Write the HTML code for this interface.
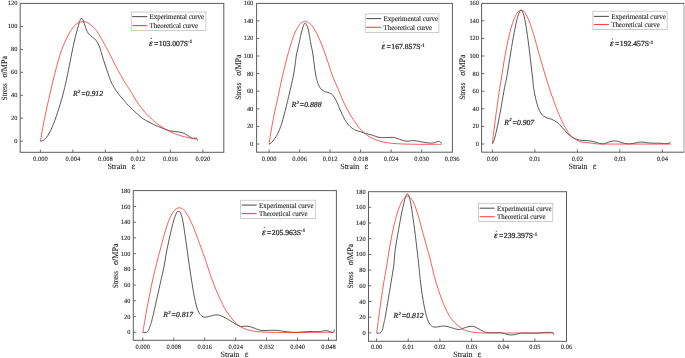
<!DOCTYPE html>
<html><head><meta charset="utf-8"><title>Stress-strain curves</title>
<style>html,body{margin:0;padding:0;background:#fff}body{width:685px;height:358px;overflow:hidden;font-family:"Liberation Serif",serif}</style></head>
<body>
<svg width="685" height="358" viewBox="0 0 685 358" text-rendering="geometricPrecision" style="display:block;will-change:transform;opacity:0.999;font-family:'Liberation Serif',serif">
<style>text{stroke:#222;stroke-width:0.1px;paint-order:stroke}.b{stroke-width:0.22px}</style>
<rect width="685" height="358" fill="#fff"/>
<g><path d="M40.4 141.1C40.7 141.1 41.4 141.1 42.0 140.9C42.6 140.7 43.1 140.7 44.0 139.9C44.9 139.1 46.2 138.1 47.6 135.9C49.0 133.7 50.8 130.5 52.4 126.6C54.0 122.7 55.8 118.0 57.5 112.7C59.2 107.5 61.2 100.9 62.8 95.1C64.3 89.3 65.0 86.3 66.8 78.0C68.6 69.7 71.5 54.1 73.4 45.3C75.4 36.5 77.3 29.5 78.5 25.2C79.7 20.9 80.0 20.3 80.5 19.2C81.0 18.1 81.2 18.3 81.5 18.3C81.8 18.3 82.1 18.6 82.5 19.2C82.9 19.8 83.1 20.2 83.7 21.8C84.3 23.4 85.3 26.9 86.1 28.9C86.9 30.9 87.5 32.2 88.5 33.6C89.5 35.0 91.0 36.1 92.3 37.2C93.6 38.3 95.0 39.0 96.1 40.3C97.2 41.6 98.0 43.4 98.7 45.0C99.5 46.6 99.7 47.3 100.6 50.1C101.5 52.9 103.0 58.4 104.2 62.0C105.4 65.7 106.5 68.9 107.5 72.0C108.5 75.1 109.6 78.1 110.5 80.4C111.4 82.7 112.1 84.0 113.0 85.6C113.9 87.2 114.7 88.5 115.7 90.0C116.7 91.5 117.8 93.0 119.0 94.6C120.2 96.2 121.5 97.6 123.1 99.4C124.7 101.2 126.1 103.1 128.4 105.4C130.7 107.8 134.3 111.2 136.8 113.5C139.3 115.8 140.7 117.2 143.5 119.0C146.3 120.8 150.2 122.8 153.6 124.4C156.9 126.0 160.8 127.6 163.6 128.7C166.4 129.8 167.9 130.4 170.3 130.9C172.7 131.4 175.7 131.4 177.9 131.8C180.2 132.2 181.7 132.4 183.8 133.3C185.9 134.2 188.9 136.4 190.5 137.2C192.1 138.0 192.5 138.2 193.5 138.3C194.5 138.5 195.7 137.7 196.4 138.1C197.1 138.5 197.4 140.2 197.6 140.6" fill="none" stroke="#3a3a3a" stroke-width="0.85" stroke-linejoin="round"/><path d="M40.4 141.1C41.0 138.0 42.5 128.8 43.7 122.8C44.9 116.8 45.8 112.3 47.4 105.2C49.0 98.1 51.1 88.5 53.2 80.0C55.3 71.5 57.9 61.5 60.1 54.5C62.4 47.5 64.5 42.5 66.7 38.0C68.9 33.5 71.1 29.9 73.0 27.4C74.9 24.9 76.3 23.9 78.0 23.0C79.7 22.1 81.3 21.7 83.0 21.7C84.7 21.7 85.9 21.7 88.0 23.0C90.1 24.3 93.1 26.5 95.6 29.5C98.0 32.5 100.3 36.8 102.7 41.0C105.1 45.2 107.9 50.6 110.2 55.0C112.5 59.4 114.0 62.8 116.5 67.5C119.0 72.2 122.9 79.2 125.2 83.0C127.5 86.8 128.2 87.1 130.1 90.2C132.0 93.3 134.3 97.8 136.8 101.5C139.3 105.2 142.4 109.3 145.2 112.5C148.0 115.7 150.8 118.4 153.6 120.8C156.4 123.2 159.2 125.2 162.0 127.0C164.8 128.8 167.5 130.3 170.3 131.7C173.1 133.0 175.9 134.1 178.7 135.1C181.5 136.1 184.1 136.7 187.1 137.4C190.1 138.1 194.8 138.9 196.4 139.2" fill="none" stroke="#f52828" stroke-width="0.75" stroke-linejoin="round"/><rect x="20.2" y="3.4" width="203.6" height="148.9" fill="none" stroke="#5c5c5c" stroke-width="1"/><text x="40.4" y="160.5" font-size="6.5" text-anchor="middle" fill="#222">0.000</text><text x="72.9" y="160.5" font-size="6.5" text-anchor="middle" fill="#222">0.004</text><text x="105.4" y="160.5" font-size="6.5" text-anchor="middle" fill="#222">0.008</text><text x="137.9" y="160.5" font-size="6.5" text-anchor="middle" fill="#222">0.012</text><text x="170.4" y="160.5" font-size="6.5" text-anchor="middle" fill="#222">0.016</text><text x="202.9" y="160.5" font-size="6.5" text-anchor="middle" fill="#222">0.020</text><text x="17.5" y="143.2" font-size="6.4" text-anchor="end" fill="#222">0</text><text x="17.5" y="120.2" font-size="6.4" text-anchor="end" fill="#222">20</text><text x="17.5" y="97.3" font-size="6.4" text-anchor="end" fill="#222">40</text><text x="17.5" y="74.3" font-size="6.4" text-anchor="end" fill="#222">60</text><text x="17.5" y="51.4" font-size="6.4" text-anchor="end" fill="#222">80</text><text x="17.5" y="28.4" font-size="6.4" text-anchor="end" fill="#222">100</text><text x="17.5" y="5.4" font-size="6.4" text-anchor="end" fill="#222">120</text><path d="M40.4 152.3v-2.8M72.9 152.3v-2.8M105.4 152.3v-2.8M137.9 152.3v-2.8M170.4 152.3v-2.8M202.9 152.3v-2.8M20.2 141.2h2.8M20.2 118.2h2.8M20.2 95.3h2.8M20.2 72.3h2.8M20.2 49.4h2.8M20.2 26.4h2.8" stroke="#5c5c5c" stroke-width="0.9" fill="none"/><text x="107.4" y="168.6" font-size="8.0" fill="#222">Strain</text><text x="131.6" y="168.6" font-size="8.8" fill="#222">ε</text><text transform="translate(7.3 100.4) rotate(-90)" font-size="8.0" fill="#222" textLength="17.3" lengthAdjust="spacingAndGlyphs">Stress</text><text transform="translate(7.3 77.4) rotate(-90)" font-size="8.8" fill="#222" textLength="21.4" lengthAdjust="spacingAndGlyphs"><tspan font-style="italic">σ</tspan>/MPa</text><rect x="131.2" y="12.0" width="74.7" height="18.4" fill="#fff" stroke="#b8b8b8" stroke-width="0.7"/><path d="M132.2 16.60h15" stroke="#585858" stroke-width="1.1"/><path d="M132.2 25.60h15" stroke="#f44" stroke-width="1.1"/><text x="149.5" y="19.3" font-size="7.3" fill="#222" textLength="54.6" lengthAdjust="spacingAndGlyphs">Experimental curve</text><text x="149.5" y="27.8" font-size="7.3" fill="#222" textLength="48.6" lengthAdjust="spacingAndGlyphs">Theoretical curve</text><text x="149.0" y="45.5" class="b" font-size="8.9" font-style="italic" fill="#222">ε</text><text x="153.9" y="45.5" class="b" font-size="7.7" fill="#222">=</text><text x="158.8" y="45.5" class="b" font-size="7.7" fill="#222">103.007S</text><text x="188.1" y="43.0" class="b" font-size="5.0" fill="#222">-1</text><circle cx="151.3" cy="38.4" r="0.55" fill="#222"/><text x="73.0" y="96.2" class="b" font-size="7.7" font-style="italic" fill="#222">R</text><text x="78.0" y="92.9" class="b" font-size="4.6" font-style="italic" fill="#222">2</text><text x="80.8" y="96.2" class="b" font-size="7.7" font-style="italic" fill="#222">=</text><text x="85.7" y="96.2" class="b" font-size="7.7" font-style="italic" fill="#222">0.912</text></g>
<g><path d="M269.1 144.2C269.4 144.0 270.4 143.5 271.0 143.0C271.6 142.5 271.8 142.4 272.9 141.0C274.0 139.6 275.9 137.3 277.4 134.3C278.9 131.3 280.3 127.8 281.8 123.1C283.3 118.4 284.8 112.3 286.3 106.3C287.8 100.3 289.6 92.5 290.8 87.3C292.0 82.1 292.8 78.7 293.5 75.0C294.2 71.3 294.6 68.2 295.1 64.9C295.6 61.6 295.7 58.9 296.4 55.0C297.1 51.1 298.8 44.7 299.5 41.4C300.2 38.1 300.3 37.3 300.8 35.2C301.3 33.1 301.9 30.6 302.4 28.9C302.9 27.2 303.4 25.8 303.8 24.8C304.2 23.8 304.7 23.0 305.1 23.0C305.6 23.0 306.0 23.8 306.5 24.8C307.0 25.8 307.6 27.2 308.1 28.9C308.6 30.6 309.0 33.1 309.4 35.2C309.8 37.3 309.8 38.1 310.4 41.4C311.0 44.7 312.2 49.7 313.0 55.0C313.8 60.3 314.6 68.4 315.4 73.0C316.2 77.6 316.7 79.8 317.6 82.5C318.5 85.2 319.7 87.4 321.0 88.9C322.3 90.5 324.0 91.1 325.5 91.8C327.0 92.5 328.6 92.4 329.9 93.1C331.2 93.8 332.2 94.3 333.3 95.8C334.4 97.2 335.4 99.1 336.7 101.8C338.0 104.5 339.6 108.7 341.1 111.9C342.6 115.1 344.1 118.5 345.6 120.9C347.1 123.3 348.6 125.0 350.1 126.5C351.6 128.0 352.6 128.8 354.5 129.7C356.4 130.6 359.3 131.4 361.2 132.0C363.1 132.6 363.8 133.0 365.6 133.5C367.5 134.0 370.1 134.5 372.3 135.2C374.5 135.8 376.8 137.0 379.0 137.4C381.2 137.8 383.5 137.6 385.7 137.6C387.9 137.6 390.5 137.2 392.4 137.3C394.3 137.4 395.2 137.8 396.9 138.3C398.6 138.8 400.8 139.8 402.5 140.3C404.2 140.8 405.1 141.1 407.0 141.2C408.9 141.2 411.6 140.6 413.7 140.6C415.8 140.6 417.2 141.1 419.3 141.4C421.4 141.8 424.0 142.4 426.0 142.7C428.0 143.0 430.0 143.1 431.5 143.1C433.0 143.1 433.8 142.8 434.9 142.5C436.0 142.2 437.3 141.5 438.2 141.4C439.1 141.3 439.7 141.6 440.3 142.0C440.9 142.4 441.4 143.3 441.6 143.6" fill="none" stroke="#3a3a3a" stroke-width="0.85" stroke-linejoin="round"/><path d="M269.1 144.2C269.4 142.4 269.9 138.0 270.7 133.2C271.5 128.4 272.9 120.9 274.0 115.3C275.1 109.7 276.1 105.5 277.4 99.6C278.7 93.7 280.3 85.8 281.6 80.0C282.9 74.2 283.9 70.2 285.2 64.9C286.5 59.6 288.2 53.1 289.7 48.1C291.2 43.1 292.6 38.4 294.1 34.7C295.6 31.0 297.3 27.9 298.6 25.9C299.9 23.8 300.9 23.2 302.0 22.4C303.1 21.6 304.0 21.1 305.3 21.3C306.6 21.5 308.3 22.2 309.8 23.5C311.3 24.8 312.6 26.3 314.3 29.1C316.0 31.9 317.8 35.4 319.9 40.3C321.9 45.1 324.6 52.4 326.6 58.2C328.7 64.0 330.3 70.0 332.2 75.0C334.1 80.0 335.8 83.6 337.8 88.4C339.9 93.2 342.3 99.4 344.5 104.1C346.7 108.8 349.5 113.6 351.2 116.4C352.9 119.2 353.2 119.4 354.5 121.2C355.8 123.0 357.2 125.5 358.9 127.5C360.6 129.5 362.6 131.5 364.5 133.1C366.4 134.7 368.1 135.9 370.1 137.1C372.2 138.3 374.6 139.4 376.8 140.2C379.0 141.0 380.9 141.5 383.5 142.0C386.1 142.5 389.0 143.1 392.4 143.4C395.8 143.7 399.5 143.8 403.6 144.0C407.7 144.2 410.7 144.2 417.0 144.3C423.3 144.4 437.5 144.3 441.6 144.3" fill="none" stroke="#f52828" stroke-width="0.75" stroke-linejoin="round"/><rect x="256.6" y="3.4" width="195.8" height="148.8" fill="none" stroke="#5c5c5c" stroke-width="1"/><text x="269.1" y="160.5" font-size="6.5" text-anchor="middle" fill="#222">0.000</text><text x="299.6" y="160.5" font-size="6.5" text-anchor="middle" fill="#222">0.006</text><text x="330.1" y="160.5" font-size="6.5" text-anchor="middle" fill="#222">0.012</text><text x="360.6" y="160.5" font-size="6.5" text-anchor="middle" fill="#222">0.018</text><text x="391.1" y="160.5" font-size="6.5" text-anchor="middle" fill="#222">0.024</text><text x="421.6" y="160.5" font-size="6.5" text-anchor="middle" fill="#222">0.030</text><text x="452.1" y="160.5" font-size="6.5" text-anchor="middle" fill="#222">0.036</text><text x="253.3" y="146.0" font-size="6.4" text-anchor="end" fill="#222">0</text><text x="253.3" y="128.4" font-size="6.4" text-anchor="end" fill="#222">20</text><text x="253.3" y="110.8" font-size="6.4" text-anchor="end" fill="#222">40</text><text x="253.3" y="93.2" font-size="6.4" text-anchor="end" fill="#222">60</text><text x="253.3" y="75.6" font-size="6.4" text-anchor="end" fill="#222">80</text><text x="253.3" y="58.0" font-size="6.4" text-anchor="end" fill="#222">100</text><text x="253.3" y="40.4" font-size="6.4" text-anchor="end" fill="#222">120</text><text x="253.3" y="22.8" font-size="6.4" text-anchor="end" fill="#222">140</text><text x="253.3" y="5.2" font-size="6.4" text-anchor="end" fill="#222">160</text><path d="M269.1 152.2v-2.8M299.6 152.2v-2.8M330.1 152.2v-2.8M360.6 152.2v-2.8M391.1 152.2v-2.8M421.6 152.2v-2.8M256.6 144.0h2.8M256.6 126.4h2.8M256.6 108.8h2.8M256.6 91.2h2.8M256.6 73.6h2.8M256.6 56.0h2.8M256.6 38.4h2.8M256.6 20.8h2.8" stroke="#5c5c5c" stroke-width="0.9" fill="none"/><text x="340.2" y="168.6" font-size="8.0" fill="#222">Strain</text><text x="364.4" y="168.6" font-size="8.8" fill="#222">ε</text><text transform="translate(240.5 99.8) rotate(-90)" font-size="8.0" fill="#222" textLength="17.3" lengthAdjust="spacingAndGlyphs">Stress</text><text transform="translate(240.5 75.8) rotate(-90)" font-size="8.8" fill="#222" textLength="21.4" lengthAdjust="spacingAndGlyphs"><tspan font-style="italic">σ</tspan>/MPa</text><rect x="365.2" y="13.9" width="73.7" height="18.5" fill="#fff" stroke="#b8b8b8" stroke-width="0.7"/><path d="M366.2 18.55h15" stroke="#585858" stroke-width="1.1"/><path d="M366.2 27.30h15" stroke="#f44" stroke-width="1.1"/><text x="383.5" y="21.2" font-size="7.3" fill="#222" textLength="54.6" lengthAdjust="spacingAndGlyphs">Experimental curve</text><text x="383.5" y="29.7" font-size="7.3" fill="#222" textLength="48.6" lengthAdjust="spacingAndGlyphs">Theoretical curve</text><text x="381.5" y="49.1" class="b" font-size="8.9" font-style="italic" fill="#222">ε</text><text x="386.4" y="49.1" class="b" font-size="7.7" fill="#222">=</text><text x="391.3" y="49.1" class="b" font-size="7.7" fill="#222">167.857S</text><text x="420.6" y="46.6" class="b" font-size="5.0" fill="#222">-1</text><circle cx="383.8" cy="42.0" r="0.55" fill="#222"/><text x="291.5" y="106.8" class="b" font-size="7.7" font-style="italic" fill="#222">R</text><text x="296.5" y="103.5" class="b" font-size="4.6" font-style="italic" fill="#222">2</text><text x="299.3" y="106.8" class="b" font-size="7.7" font-style="italic" fill="#222">=</text><text x="304.2" y="106.8" class="b" font-size="7.7" font-style="italic" fill="#222">0.888</text></g>
<g><path d="M492.3 143.9C492.7 143.1 493.6 142.1 494.5 138.8C495.4 135.5 496.8 129.6 497.9 124.2C499.0 118.8 500.2 112.5 501.3 106.3C502.4 100.1 503.7 92.0 504.6 87.3C505.5 82.6 505.9 82.1 506.6 78.0C507.4 73.9 508.1 68.5 509.1 62.6C510.1 56.7 511.3 48.8 512.4 42.5C513.5 36.2 514.8 29.3 515.8 24.6C516.8 19.9 517.6 16.9 518.5 14.5C519.4 12.1 520.1 10.3 520.9 10.1C521.7 9.9 522.5 11.4 523.2 13.4C524.0 15.4 524.6 17.9 525.4 22.4C526.2 26.9 527.3 34.3 528.1 40.3C528.9 46.3 529.6 52.1 530.3 58.2C531.0 64.3 531.9 72.0 532.5 77.0C533.1 82.0 533.1 84.6 533.7 88.4C534.3 92.2 535.1 96.2 535.9 99.6C536.7 103.0 537.7 106.2 538.6 108.6C539.5 111.0 540.3 112.6 541.5 114.1C542.7 115.6 544.3 116.6 546.0 117.5C547.7 118.4 549.7 118.5 551.6 119.3C553.5 120.1 555.5 121.1 557.2 122.4C558.9 123.7 560.0 125.1 561.7 126.9C563.4 128.7 565.4 131.4 567.2 133.2C569.1 135.0 570.8 136.4 572.8 137.6C574.8 138.8 577.5 139.6 579.5 140.1C581.5 140.6 583.1 140.3 585.0 140.5C586.9 140.7 588.9 140.8 590.6 141.0C592.3 141.2 593.6 141.6 595.1 142.0C596.6 142.4 598.1 143.1 599.6 143.4C601.1 143.7 602.5 144.1 604.0 143.9C605.5 143.7 607.0 142.6 608.5 142.1C610.0 141.6 611.5 141.2 613.0 141.0C614.5 140.8 616.0 140.9 617.5 141.2C619.0 141.5 620.0 142.2 621.9 142.7C623.8 143.1 626.4 143.8 628.6 143.9C630.9 144.0 633.3 143.3 635.4 143.0C637.5 142.7 639.1 142.1 641.0 142.0C642.9 141.9 644.5 142.5 646.5 142.7C648.5 142.9 651.0 143.1 653.2 143.2C655.5 143.3 658.1 143.1 660.0 143.2C661.9 143.3 662.9 143.6 664.4 143.6C665.9 143.6 667.8 143.7 668.9 143.4C670.0 143.1 670.4 142.1 670.7 141.8" fill="none" stroke="#3a3a3a" stroke-width="0.85" stroke-linejoin="round"/><path d="M492.3 143.9C492.6 141.7 493.1 136.8 493.9 130.9C494.6 125.0 495.8 115.7 496.8 108.6C497.8 101.5 498.9 93.7 499.7 88.4C500.5 83.1 500.9 81.7 501.6 77.0C502.4 72.3 503.1 66.5 504.2 60.4C505.3 54.3 506.6 46.4 508.0 40.3C509.4 34.1 510.9 28.0 512.4 23.5C513.9 19.0 515.5 15.6 516.9 13.4C518.3 11.2 519.6 10.3 520.9 10.1C522.2 9.9 523.3 10.4 524.7 12.3C526.1 14.2 527.7 17.6 529.2 21.3C530.7 25.0 532.0 29.1 533.7 34.7C535.4 40.3 537.3 47.8 539.3 54.8C541.3 61.8 544.1 71.4 545.8 77.0C547.5 82.6 547.9 83.9 549.4 88.4C550.9 92.9 553.1 99.2 554.9 104.1C556.7 108.9 558.5 113.6 560.3 117.5C562.0 121.4 563.8 124.7 565.4 127.6C567.0 130.5 568.0 132.8 570.2 135.0C572.4 137.2 575.8 139.8 578.5 141.0C581.2 142.2 583.4 142.1 586.2 142.5C589.0 142.9 592.1 143.3 595.1 143.6C598.1 143.8 591.4 143.9 604.0 144.0C616.6 144.1 659.6 144.1 670.7 144.1" fill="none" stroke="#f52828" stroke-width="0.75" stroke-linejoin="round"/><rect x="683.1" y="2.9" width="2" height="149.8" fill="#cdcdcd"/><path d="M684.0 3.4H481.6V152.2H684.0" fill="none" stroke="#5c5c5c" stroke-width="1"/><text x="492.4" y="160.5" font-size="6.5" text-anchor="middle" fill="#222">0.00</text><text x="534.9" y="160.5" font-size="6.5" text-anchor="middle" fill="#222">0.01</text><text x="577.4" y="160.5" font-size="6.5" text-anchor="middle" fill="#222">0.02</text><text x="619.9" y="160.5" font-size="6.5" text-anchor="middle" fill="#222">0.03</text><text x="662.4" y="160.5" font-size="6.5" text-anchor="middle" fill="#222">0.04</text><text x="479.0" y="146.0" font-size="6.4" text-anchor="end" fill="#222">0</text><text x="479.0" y="128.4" font-size="6.4" text-anchor="end" fill="#222">20</text><text x="479.0" y="110.8" font-size="6.4" text-anchor="end" fill="#222">40</text><text x="479.0" y="93.2" font-size="6.4" text-anchor="end" fill="#222">60</text><text x="479.0" y="75.6" font-size="6.4" text-anchor="end" fill="#222">80</text><text x="479.0" y="58.0" font-size="6.4" text-anchor="end" fill="#222">100</text><text x="479.0" y="40.4" font-size="6.4" text-anchor="end" fill="#222">120</text><text x="479.0" y="22.8" font-size="6.4" text-anchor="end" fill="#222">140</text><text x="479.0" y="5.2" font-size="6.4" text-anchor="end" fill="#222">160</text><path d="M492.4 152.2v-2.8M534.9 152.2v-2.8M577.4 152.2v-2.8M619.9 152.2v-2.8M662.4 152.2v-2.8M481.6 144.0h2.8M481.6 126.4h2.8M481.6 108.8h2.8M481.6 91.2h2.8M481.6 73.6h2.8M481.6 56.0h2.8M481.6 38.4h2.8M481.6 20.8h2.8" stroke="#5c5c5c" stroke-width="0.9" fill="none"/><text x="568.5" y="168.6" font-size="8.0" fill="#222">Strain</text><text x="592.7" y="168.6" font-size="8.8" fill="#222">ε</text><text transform="translate(465.1 99.8) rotate(-90)" font-size="8.0" fill="#222" textLength="17.3" lengthAdjust="spacingAndGlyphs">Stress</text><text transform="translate(465.1 75.8) rotate(-90)" font-size="8.8" fill="#222" textLength="21.4" lengthAdjust="spacingAndGlyphs"><tspan font-style="italic">σ</tspan>/MPa</text><rect x="592.9" y="11.2" width="74.2" height="18.3" fill="#fff" stroke="#b8b8b8" stroke-width="0.7"/><path d="M593.9 16.40h15" stroke="#585858" stroke-width="1.1"/><path d="M593.9 24.50h15" stroke="#f44" stroke-width="1.1"/><text x="611.2" y="18.5" font-size="7.3" fill="#222" textLength="54.6" lengthAdjust="spacingAndGlyphs">Experimental curve</text><text x="611.2" y="27.0" font-size="7.3" fill="#222" textLength="48.6" lengthAdjust="spacingAndGlyphs">Theoretical curve</text><text x="610.0" y="46.0" class="b" font-size="8.9" font-style="italic" fill="#222">ε</text><text x="614.9" y="46.0" class="b" font-size="7.7" fill="#222">=</text><text x="619.8" y="46.0" class="b" font-size="7.7" fill="#222">192.457S</text><text x="649.1" y="43.5" class="b" font-size="5.0" fill="#222">-1</text><circle cx="612.3" cy="38.9" r="0.55" fill="#222"/><text x="504.2" y="124.7" class="b" font-size="7.7" font-style="italic" fill="#222">R</text><text x="509.2" y="121.4" class="b" font-size="4.6" font-style="italic" fill="#222">2</text><text x="512.0" y="124.7" class="b" font-size="7.7" font-style="italic" fill="#222">=</text><text x="516.9" y="124.7" class="b" font-size="7.7" font-style="italic" fill="#222">0.907</text></g>
<g><path d="M142.8 332.4C143.2 332.4 144.4 332.4 145.0 332.4C145.6 332.4 146.2 332.4 146.6 332.3C147.0 332.2 147.4 332.0 147.7 331.6C148.0 331.2 148.2 331.2 148.6 330.2C149.0 329.2 149.6 327.8 150.2 325.8C150.8 323.8 151.3 322.9 152.4 318.4C153.5 313.9 155.3 305.5 156.8 298.9C158.3 292.3 160.0 284.6 161.3 278.8C162.6 273.0 163.6 268.8 164.5 264.0C165.4 259.2 165.9 254.9 166.9 249.9C167.9 244.9 169.2 239.0 170.3 234.2C171.4 229.3 172.6 224.3 173.6 220.8C174.6 217.3 175.7 214.6 176.5 213.0C177.3 211.4 177.8 211.4 178.5 211.4C179.2 211.4 179.8 211.2 180.6 213.0C181.3 214.8 182.1 217.2 183.0 221.9C183.9 226.6 184.9 234.2 185.9 240.9C186.9 247.6 188.0 256.2 188.8 262.0C189.6 267.8 190.1 270.5 190.8 275.4C191.6 280.2 192.4 286.2 193.3 291.1C194.2 296.0 195.1 300.9 196.0 304.5C196.9 308.1 197.9 310.6 198.9 312.5C199.9 314.4 200.8 315.2 201.8 316.0C202.9 316.8 203.8 317.2 205.2 317.2C206.6 317.2 208.7 316.5 210.5 316.1C212.3 315.7 214.4 314.9 216.1 314.8C217.8 314.7 219.1 315.2 220.6 315.7C222.1 316.2 223.8 317.1 225.1 317.8C226.4 318.5 227.3 318.9 228.5 319.6C229.7 320.3 231.2 321.4 232.5 322.2C233.8 323.0 235.2 323.8 236.5 324.5C237.8 325.2 239.0 326.2 240.6 326.5C242.2 326.8 244.3 326.0 246.2 326.1C248.1 326.2 249.9 326.6 251.8 327.2C253.7 327.8 255.5 328.8 257.4 329.4C259.3 330.0 260.9 330.5 263.0 330.6C265.1 330.8 267.5 330.4 269.7 330.3C271.9 330.2 274.2 330.2 276.4 330.3C278.6 330.4 280.5 330.9 283.1 331.2C285.7 331.5 289.0 332.1 292.0 332.3C295.0 332.5 297.9 332.2 300.9 332.1C303.9 332.0 306.9 331.6 309.9 331.5C312.9 331.4 316.6 331.8 318.8 331.7C321.0 331.6 322.0 331.2 323.3 331.0C324.6 330.8 325.5 330.5 326.6 330.6C327.7 330.7 328.9 331.4 330.0 331.7C331.1 332.0 332.6 332.7 333.3 332.3C334.0 331.9 334.2 329.9 334.4 329.4" fill="none" stroke="#3a3a3a" stroke-width="0.85" stroke-linejoin="round"/><path d="M142.8 332.5C143.1 330.8 143.7 327.2 144.5 322.4C145.3 317.5 146.6 310.3 147.9 303.4C149.2 296.5 151.0 287.6 152.4 281.0C153.8 274.4 155.3 268.7 156.6 263.5C157.9 258.3 158.8 255.0 160.2 249.9C161.5 244.8 163.2 238.1 164.7 233.1C166.2 228.1 167.6 223.3 169.1 219.7C170.6 216.1 172.3 213.3 173.6 211.4C174.9 209.5 176.1 209.1 177.0 208.5C177.9 207.9 178.3 207.7 179.2 207.8C180.1 207.9 181.3 207.9 182.6 208.9C183.9 209.9 185.3 211.4 187.0 214.1C188.7 216.8 190.5 220.5 192.6 225.3C194.7 230.2 197.1 236.8 199.4 243.2C201.8 249.6 204.8 258.1 206.7 263.5C208.5 268.9 208.9 271.0 210.5 275.4C212.1 279.8 214.2 285.5 216.1 290.0C218.0 294.5 220.2 299.2 221.7 302.3C223.2 305.4 223.7 306.7 225.0 308.9C226.3 311.1 227.8 313.4 229.5 315.6C231.2 317.8 233.2 320.4 235.0 322.3C236.8 324.2 238.5 325.6 240.6 326.8C242.7 328.0 245.1 329.0 247.3 329.7C249.5 330.4 251.4 330.8 254.0 331.2C256.6 331.6 259.6 331.9 263.0 332.1C266.4 332.3 269.3 332.2 274.1 332.3C278.9 332.4 285.3 332.6 292.0 332.6C298.7 332.6 307.4 332.4 314.3 332.3C321.2 332.2 330.1 332.3 333.3 332.3" fill="none" stroke="#f52828" stroke-width="0.75" stroke-linejoin="round"/><rect x="133.3" y="190.6" width="203.1" height="149.7" fill="none" stroke="#5c5c5c" stroke-width="1"/><text x="142.8" y="348.6" font-size="6.5" text-anchor="middle" fill="#222">0.000</text><text x="173.8" y="348.6" font-size="6.5" text-anchor="middle" fill="#222">0.008</text><text x="204.7" y="348.6" font-size="6.5" text-anchor="middle" fill="#222">0.016</text><text x="235.7" y="348.6" font-size="6.5" text-anchor="middle" fill="#222">0.024</text><text x="266.6" y="348.6" font-size="6.5" text-anchor="middle" fill="#222">0.032</text><text x="297.6" y="348.6" font-size="6.5" text-anchor="middle" fill="#222">0.040</text><text x="328.5" y="348.6" font-size="6.5" text-anchor="middle" fill="#222">0.048</text><text x="130.5" y="334.3" font-size="6.4" text-anchor="end" fill="#222">0</text><text x="130.5" y="318.6" font-size="6.4" text-anchor="end" fill="#222">20</text><text x="130.5" y="302.8" font-size="6.4" text-anchor="end" fill="#222">40</text><text x="130.5" y="287.1" font-size="6.4" text-anchor="end" fill="#222">60</text><text x="130.5" y="271.4" font-size="6.4" text-anchor="end" fill="#222">80</text><text x="130.5" y="255.7" font-size="6.4" text-anchor="end" fill="#222">100</text><text x="130.5" y="239.9" font-size="6.4" text-anchor="end" fill="#222">120</text><text x="130.5" y="224.2" font-size="6.4" text-anchor="end" fill="#222">140</text><text x="130.5" y="208.5" font-size="6.4" text-anchor="end" fill="#222">160</text><text x="130.5" y="192.7" font-size="6.4" text-anchor="end" fill="#222">180</text><path d="M142.8 340.3v-2.8M173.8 340.3v-2.8M204.7 340.3v-2.8M235.7 340.3v-2.8M266.6 340.3v-2.8M297.6 340.3v-2.8M328.5 340.3v-2.8M133.3 332.3h2.8M133.3 316.6h2.8M133.3 300.8h2.8M133.3 285.1h2.8M133.3 269.4h2.8M133.3 253.7h2.8M133.3 237.9h2.8M133.3 222.2h2.8M133.3 206.5h2.8" stroke="#5c5c5c" stroke-width="0.9" fill="none"/><text x="220.5" y="356.5" font-size="8.0" fill="#222">Strain</text><text x="244.7" y="356.5" font-size="8.8" fill="#222">ε</text><text transform="translate(117.6 288.3) rotate(-90)" font-size="8.0" fill="#222" textLength="17.3" lengthAdjust="spacingAndGlyphs">Stress</text><text transform="translate(117.6 264.9) rotate(-90)" font-size="8.8" fill="#222" textLength="21.4" lengthAdjust="spacingAndGlyphs"><tspan font-style="italic">σ</tspan>/MPa</text><rect x="240.7" y="200.2" width="74.6" height="18.3" fill="#fff" stroke="#b8b8b8" stroke-width="0.7"/><path d="M241.7 205.10h15" stroke="#585858" stroke-width="1.1"/><path d="M241.7 213.60h15" stroke="#f44" stroke-width="1.1"/><text x="259.0" y="207.5" font-size="7.3" fill="#222" textLength="54.6" lengthAdjust="spacingAndGlyphs">Experimental curve</text><text x="259.0" y="216.0" font-size="7.3" fill="#222" textLength="48.6" lengthAdjust="spacingAndGlyphs">Theoretical curve</text><text x="262.0" y="234.6" class="b" font-size="8.9" font-style="italic" fill="#222">ε</text><text x="266.9" y="234.6" class="b" font-size="7.7" fill="#222">=</text><text x="271.8" y="234.6" class="b" font-size="7.7" fill="#222">205.963S</text><text x="301.1" y="232.1" class="b" font-size="5.0" fill="#222">-1</text><circle cx="264.3" cy="227.5" r="0.55" fill="#222"/><text x="163.2" y="316.8" class="b" font-size="7.7" font-style="italic" fill="#222">R</text><text x="168.2" y="313.5" class="b" font-size="4.6" font-style="italic" fill="#222">2</text><text x="171.0" y="316.8" class="b" font-size="7.7" font-style="italic" fill="#222">=</text><text x="175.9" y="316.8" class="b" font-size="7.7" font-style="italic" fill="#222">0.817</text></g>
<g><path d="M376.6 333.1C376.9 333.1 377.9 333.2 378.5 333.1C379.1 333.1 379.6 333.2 380.0 333.0C380.4 332.8 380.9 332.6 381.2 332.2C381.5 331.8 381.7 331.5 382.0 330.8C382.3 330.1 382.5 329.3 382.9 327.8C383.3 326.3 383.8 323.5 384.2 321.8C384.6 320.1 384.4 321.9 385.1 317.9C385.8 313.9 387.4 304.5 388.5 297.8C389.6 291.1 390.9 283.2 391.8 277.7C392.7 272.2 393.2 269.6 393.8 265.0C394.4 260.4 394.4 255.8 395.2 249.9C396.0 244.0 397.5 236.0 398.6 229.7C399.7 223.3 400.9 216.8 401.9 211.8C402.9 206.8 404.1 202.3 404.8 199.5C405.6 196.7 405.9 196.0 406.4 195.1C406.8 194.2 407.1 193.8 407.5 193.9C407.9 194.0 408.2 194.0 408.8 195.7C409.4 197.4 410.2 200.2 410.9 204.0C411.6 207.8 412.2 212.4 413.1 218.6C414.0 224.8 415.1 233.4 416.0 240.9C416.9 248.4 418.0 257.8 418.6 263.5C419.2 269.2 419.2 270.4 419.8 275.4C420.4 280.4 421.2 288.1 422.0 293.3C422.8 298.5 423.5 302.6 424.3 306.7C425.1 310.8 426.1 315.0 427.0 317.9C427.9 320.8 428.9 322.7 429.9 324.2C430.9 325.7 431.9 326.4 433.2 326.9C434.5 327.3 436.0 327.0 437.7 326.9C439.4 326.8 441.4 326.0 443.3 326.0C445.2 326.0 447.0 326.4 448.9 326.9C450.8 327.3 452.7 328.2 454.5 328.7C456.3 329.1 458.0 329.7 459.5 329.6C461.0 329.5 461.9 328.8 463.3 328.3C464.7 327.8 466.3 327.1 467.8 326.8C469.3 326.5 470.8 326.2 472.3 326.3C473.8 326.4 475.2 327.0 476.7 327.7C478.2 328.4 479.7 329.5 481.2 330.3C482.7 331.1 484.0 331.9 485.7 332.3C487.4 332.7 489.2 332.8 491.3 332.8C493.4 332.9 496.1 332.6 498.0 332.6C499.9 332.6 500.9 332.7 502.4 333.0C503.9 333.3 505.4 334.1 506.9 334.4C508.4 334.7 509.9 335.0 511.4 335.0C512.9 335.0 514.3 334.7 515.8 334.4C517.3 334.1 518.4 333.4 520.3 333.2C522.2 333.0 524.4 333.0 527.0 333.0C529.6 333.0 533.3 333.3 535.9 333.2C538.5 333.1 540.4 332.8 542.6 332.6C544.8 332.5 547.6 332.3 549.3 332.3C551.0 332.3 552.0 332.4 552.7 332.8C553.5 333.2 553.6 334.3 553.8 334.6" fill="none" stroke="#3a3a3a" stroke-width="0.85" stroke-linejoin="round"/><path d="M376.6 333.1C376.9 331.0 377.6 325.7 378.4 320.2C379.1 314.7 380.2 306.5 381.1 300.0C382.0 293.5 383.0 287.1 384.0 281.0C385.0 274.9 386.2 269.1 387.1 263.5C388.0 257.9 388.6 253.2 389.6 247.6C390.6 242.0 391.9 234.9 393.0 229.7C394.1 224.5 395.2 220.2 396.3 216.3C397.4 212.4 398.6 209.1 399.7 206.3C400.8 203.5 401.9 201.1 403.0 199.5C404.1 197.9 405.6 197.2 406.4 196.6C407.2 196.0 407.2 195.9 408.0 196.2C408.8 196.5 409.9 197.1 410.9 198.4C411.9 199.7 412.9 200.8 414.2 204.0C415.5 207.2 417.2 212.4 418.7 217.4C420.2 222.4 421.7 228.8 423.2 234.2C424.7 239.6 426.2 245.0 427.6 249.9C429.0 254.8 430.2 259.1 431.3 263.5C432.4 267.9 433.1 271.9 434.4 276.5C435.6 281.1 437.3 286.6 438.8 291.1C440.3 295.6 441.6 299.4 443.3 303.4C445.0 307.4 447.0 312.0 448.9 315.2C450.8 318.4 452.6 320.4 454.5 322.4C456.4 324.4 458.4 325.9 460.1 327.2C461.8 328.5 462.6 329.2 464.5 330.0C466.4 330.8 468.6 331.4 471.2 331.9C473.8 332.4 476.4 332.6 480.1 332.8C483.8 333.0 481.2 333.0 493.5 333.0C505.8 333.0 543.8 333.0 553.8 333.0" fill="none" stroke="#f52828" stroke-width="0.75" stroke-linejoin="round"/><rect x="368.5" y="191.7" width="198.0" height="149.6" fill="none" stroke="#5c5c5c" stroke-width="1"/><text x="376.6" y="349.3" font-size="6.5" text-anchor="middle" fill="#222">0.00</text><text x="408.2" y="349.3" font-size="6.5" text-anchor="middle" fill="#222">0.01</text><text x="439.9" y="349.3" font-size="6.5" text-anchor="middle" fill="#222">0.02</text><text x="471.6" y="349.3" font-size="6.5" text-anchor="middle" fill="#222">0.03</text><text x="503.2" y="349.3" font-size="6.5" text-anchor="middle" fill="#222">0.04</text><text x="534.9" y="349.3" font-size="6.5" text-anchor="middle" fill="#222">0.05</text><text x="566.5" y="349.3" font-size="6.5" text-anchor="middle" fill="#222">0.06</text><text x="365.6" y="334.9" font-size="6.4" text-anchor="end" fill="#222">0</text><text x="365.6" y="319.2" font-size="6.4" text-anchor="end" fill="#222">20</text><text x="365.6" y="303.5" font-size="6.4" text-anchor="end" fill="#222">40</text><text x="365.6" y="287.8" font-size="6.4" text-anchor="end" fill="#222">60</text><text x="365.6" y="272.1" font-size="6.4" text-anchor="end" fill="#222">80</text><text x="365.6" y="256.4" font-size="6.4" text-anchor="end" fill="#222">100</text><text x="365.6" y="240.7" font-size="6.4" text-anchor="end" fill="#222">120</text><text x="365.6" y="225.0" font-size="6.4" text-anchor="end" fill="#222">140</text><text x="365.6" y="209.3" font-size="6.4" text-anchor="end" fill="#222">160</text><text x="365.6" y="193.6" font-size="6.4" text-anchor="end" fill="#222">180</text><path d="M376.6 341.2v-2.8M408.2 341.2v-2.8M439.9 341.2v-2.8M471.6 341.2v-2.8M503.2 341.2v-2.8M534.9 341.2v-2.8M368.5 332.9h2.8M368.5 317.2h2.8M368.5 301.5h2.8M368.5 285.8h2.8M368.5 270.1h2.8M368.5 254.4h2.8M368.5 238.7h2.8M368.5 223.0h2.8M368.5 207.3h2.8" stroke="#5c5c5c" stroke-width="0.9" fill="none"/><text x="453.3" y="357.0" font-size="8.0" fill="#222">Strain</text><text x="477.5" y="357.0" font-size="8.8" fill="#222">ε</text><text transform="translate(352.7 288.6) rotate(-90)" font-size="8.0" fill="#222" textLength="17.3" lengthAdjust="spacingAndGlyphs">Stress</text><text transform="translate(352.7 265.2) rotate(-90)" font-size="8.8" fill="#222" textLength="21.4" lengthAdjust="spacingAndGlyphs"><tspan font-style="italic">σ</tspan>/MPa</text><rect x="478.7" y="203.3" width="74.1" height="18.1" fill="#fff" stroke="#b8b8b8" stroke-width="0.7"/><path d="M479.7 208.20h15" stroke="#585858" stroke-width="1.1"/><path d="M479.7 216.70h15" stroke="#f44" stroke-width="1.1"/><text x="497.0" y="210.6" font-size="7.3" fill="#222" textLength="54.6" lengthAdjust="spacingAndGlyphs">Experimental curve</text><text x="497.0" y="219.1" font-size="7.3" fill="#222" textLength="48.6" lengthAdjust="spacingAndGlyphs">Theoretical curve</text><text x="494.0" y="238.4" class="b" font-size="8.9" font-style="italic" fill="#222">ε</text><text x="498.9" y="238.4" class="b" font-size="7.7" fill="#222">=</text><text x="503.8" y="238.4" class="b" font-size="7.7" fill="#222">239.397S</text><text x="533.1" y="235.9" class="b" font-size="5.0" fill="#222">-1</text><circle cx="496.3" cy="231.3" r="0.55" fill="#222"/><text x="393.6" y="317.8" class="b" font-size="7.7" font-style="italic" fill="#222">R</text><text x="398.6" y="314.5" class="b" font-size="4.6" font-style="italic" fill="#222">2</text><text x="401.4" y="317.8" class="b" font-size="7.7" font-style="italic" fill="#222">=</text><text x="406.3" y="317.8" class="b" font-size="7.7" font-style="italic" fill="#222">0.812</text></g>
</svg>
</body></html>
